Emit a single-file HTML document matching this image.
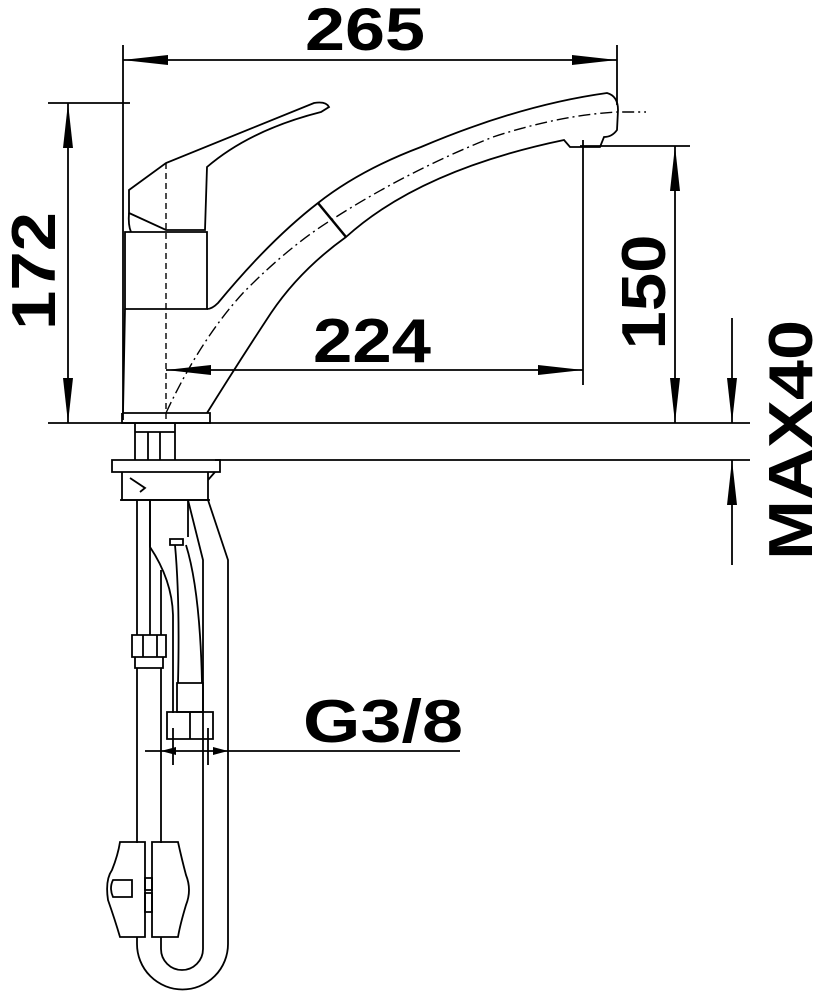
<!DOCTYPE html>
<html><head><meta charset="utf-8"><style>html,body{margin:0;padding:0;background:#fff}svg{display:block}text{font-family:"Liberation Sans",Arial,sans-serif;font-weight:bold;fill:#000}</style></head><body>
<svg width="821" height="999" viewBox="0 0 821 999" xmlns="http://www.w3.org/2000/svg">
<g stroke="#000" stroke-width="1.8" fill="none">
<line x1="123" y1="45" x2="123" y2="420"/>
<line x1="617" y1="45" x2="617" y2="105"/>
<line x1="48" y1="103" x2="130" y2="103"/>
<line x1="48" y1="423" x2="750" y2="423"/>
<line x1="215" y1="460" x2="750" y2="460"/>
<line x1="580" y1="146" x2="690" y2="146"/>
<line x1="583" y1="140" x2="583" y2="385"/>
<line x1="123" y1="60" x2="617" y2="60"/>
<line x1="68" y1="103" x2="68" y2="423"/>
<line x1="675" y1="146" x2="675" y2="423"/>
<line x1="166" y1="370" x2="583" y2="370"/>
<line x1="732" y1="318" x2="732" y2="423"/>
<line x1="732" y1="460" x2="732" y2="565"/>
<line x1="145" y1="751" x2="460" y2="751"/>
<path d="M125 232 L207 232 L207 309 L125 309 Z"/>
<path d="M125 309 L123 413 L202 413"/>
<path d="M122 413 L122 423 L210 423 L210 413 L202 413"/>
<path d="M129 190 L166 163 L314 103 Q326 101 329 107 L321 112 Q250 130 207 167 L205 230 L166 230 L129 213 Z"/>
<path d="M129 213 Q128 225 131 232"/>
<path d="M207 309 Q212 309 218 303 Q270 240 318 203 Q360 170 421 147 Q520 105 607 93 Q618 96 618 110 L617 130 Q612 137 604 137 L600 147 L570 147 L564 140 Q420 170 346 237 Q300 270 271 313 Q240 360 207 413"/>
<line x1="318" y1="203" x2="346" y2="237" stroke-width="2.5"/>
<path d="M166 413 Q200 340 243 293 Q290 245 336 217 Q410 170 493 137 Q560 115 618 112 L646 112" stroke-dasharray="12 4 2 4" stroke-width="1.4"/>
<line x1="166" y1="163" x2="166" y2="423" stroke-dasharray="6 4" stroke-width="1.4"/>
<path d="M135 423 L135 460 M175 423 L175 460 M148 432 L148 460 M160 432 L160 460 M135 432 L175 432"/>
<path d="M112 460 L220 460 L220 472 L112 472 Z"/>
<path d="M122 472 L122 500 L208 500 L208 472 M130 478 L145 488 L140 492 M208 480 L215 472"/>
<path d="M120 500 L210 500"/>
<path d="M137 500 L137 635 M150 500 L150 635"/>
<path d="M132 635 L166 635 L166 657 L132 657 Z M143 635 L143 657 M157 635 L157 657"/>
<path d="M135 657 L135 668 L163 668 L163 657"/>
<path d="M137 668 L137 843 M161 668 L161 843"/>
<path d="M161 570 L161 635"/>
<path d="M150 500 L150 547 Q172 580 173 615 L173 713"/>
<path d="M188 500 L188 537"/>
<path d="M170 539 L183 539 L183 545 L170 545 Z"/>
<path d="M175 545 Q180 600 178 683 M186 545 Q200 590 202 683"/>
<path d="M177 683 L203 683 L203 712 L177 712 Z"/>
<path d="M167 712 L213 712 L213 739 L167 739 Z M190 712 L190 739"/>
<line x1="173" y1="728" x2="173" y2="765"/><line x1="208" y1="728" x2="208" y2="765"/>
<path d="M188 500 L203 560 L203 949 A21 21 0 0 1 161 949 L161 937"/>
<path d="M208 500 L228 560 L228 944 A45.5 45.5 0 0 1 137 944 L137 937"/>
<path d="M120 842 L145 842 L145 937 L120 937 Q115 920 108 900 Q105 880 112 870 Q118 855 120 842 Z"/>
<path d="M152 842 L178 842 Q182 860 186 875 Q192 890 186 905 Q180 925 178 937 L152 937 Z"/>
<path d="M113 880 L132 880 L132 897 L113 897 Q109 888 113 880 Z"/>
<path d="M145 878 L152 878 L152 890 L145 890 Z M145 893 L152 893 L152 912 L145 912 Z"/>
</g>
<g fill="#000">
<polygon points="123,60 168,55 168,65"/><polygon points="617,60 572,55 572,65"/>
<polygon points="68,103 63,148 73,148"/><polygon points="68,423 63,378 73,378"/>
<polygon points="675,146 670,191 680,191"/><polygon points="675,423 670,378 680,378"/>
<polygon points="166,370 211,365 211,375"/><polygon points="583,370 538,365 538,375"/>
<polygon points="732,423 727,378 737,378"/><polygon points="732,460 727,505 737,505"/>
<polygon points="161,751 176,747 176,755"/><polygon points="228,751 213,747 213,755"/>
</g>
<text x="365" y="50" font-size="60" text-anchor="middle" textLength="120" lengthAdjust="spacingAndGlyphs">265</text>
<text x="372" y="362" font-size="62" text-anchor="middle" textLength="118" lengthAdjust="spacingAndGlyphs">224</text>
<text x="383" y="742" font-size="60" text-anchor="middle" textLength="160" lengthAdjust="spacingAndGlyphs">G3/8</text>
<text transform="translate(55,271) rotate(-90)" font-size="62" text-anchor="middle" textLength="118" lengthAdjust="spacingAndGlyphs">172</text>
<text transform="translate(665,292) rotate(-90)" font-size="62" text-anchor="middle" textLength="115" lengthAdjust="spacingAndGlyphs">150</text>
<text transform="translate(812,440) rotate(-90)" font-size="62" text-anchor="middle" textLength="240" lengthAdjust="spacingAndGlyphs">MAX40</text>
</svg>
</body></html>
